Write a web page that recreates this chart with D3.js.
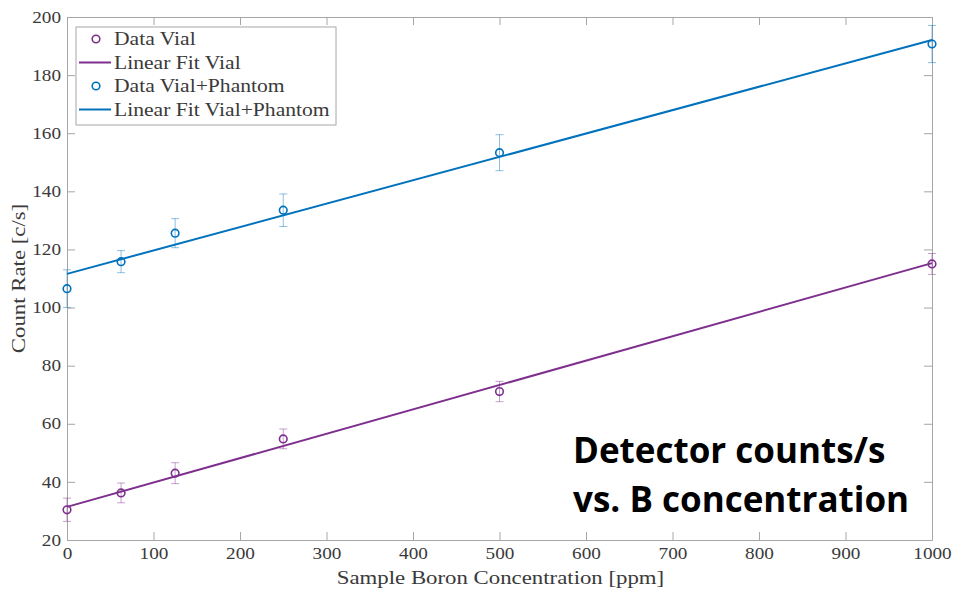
<!DOCTYPE html>
<html lang="en">
<head>
  <meta charset="utf-8">
  <title>Count rate vs boron concentration</title>
  <script src="https://d3js.org/d3.v7.min.js"></script>
  <style>
    body { margin: 0; background: #fff; }
  </style>
</head>
<body>
  <div id="chart"></div>
  <script>
    "use strict"

    // concentrations [ppm]
    var conc = [0, 62.5, 125, 250, 500, 1000];

    // vial only
    var vialRate = [30.4, 36.2, 43.0, 54.8, 71.1, 115.0];
    var vialErr = [4.0, 3.4, 3.6, 3.4, 3.5, 3.6];
    var vialFit = [31.4, 115.3]; // at 0 and 1000 ppm

    // vial + phantom
    var phantRate = [106.5, 115.8, 125.6, 133.5, 153.3, 190.7];
    var phantErr = [6.5, 3.8, 5.0, 5.6, 6.2, 6.4];
    var phantFit = [111.6, 192.1];

    var fitX = [0, 1000];
    var xTicks = [0, 100, 200, 300, 400, 500, 600, 700, 800, 900, 1000];
    var yTicks = [20, 40, 60, 80, 100, 120, 140, 160, 180, 200];

    var purple = '#7e2f8e', blue = '#0072bd';
    var serif = '"Liberation Serif", "Times New Roman", "DejaVu Serif", serif';
    var textoCor = '#3a3a3a';
    var estica = 1.2; // computer modern is wider than times

    var larguraSVG = 953, alturaSVG = 590;
    var margin = {top: 17, right: 21, bottom: 50, left: 67},
        larguraVis = larguraSVG - margin.left - margin.right,
        alturaVis = alturaSVG - margin.top - margin.bottom;

    var svg = d3.select('#chart').append('svg')
        .attr('width', larguraSVG)
        .attr('height', alturaSVG);

    var grafico = svg.append('g')
        .attr('transform', 'translate(' + margin.left + ',' + margin.top + ')');

    var x = d3.scaleLinear().domain([0, 1000]).range([0, larguraVis]);
    var y = d3.scaleLinear().domain([20, 200]).range([alturaVis, 0]);

    // stretch text a bit horizontally
    function alarga(sel) {
      sel.each(function() {
        var w = this.getComputedTextLength();
        d3.select(this).attr('textLength', w * estica).attr('lengthAdjust', 'spacingAndGlyphs');
      });
    }

    // box + ticks (inward, mirrored)
    var eixoCor = '#a6a6a6';
    function estiloEixo(g) {
      g.attr('font-family', serif).attr('font-size', 16);
      g.select('.domain').attr('stroke', eixoCor);
      g.selectAll('.tick line').attr('stroke', eixoCor);
      g.selectAll('.tick text').attr('fill', textoCor).call(alarga);
    }
    grafico.append('g')
        .attr('transform', 'translate(0,' + alturaVis + ')')
        .call(d3.axisBottom(x).tickValues(xTicks).tickFormat(d3.format('d'))
          .tickSizeInner(-8).tickSizeOuter(0).tickPadding(8))
        .call(estiloEixo);
    grafico.append('g')
        .call(d3.axisTop(x).tickValues(xTicks).tickSizeInner(-8).tickSizeOuter(0).tickFormat(''))
        .call(estiloEixo);
    grafico.append('g')
        .call(d3.axisLeft(y).tickValues(yTicks).tickSizeInner(-8).tickSizeOuter(0).tickPadding(6))
        .call(estiloEixo);
    grafico.append('g')
        .attr('transform', 'translate(' + larguraVis + ',0)')
        .call(d3.axisRight(y).tickValues(yTicks).tickSizeInner(-8).tickSizeOuter(0).tickFormat(''))
        .call(estiloEixo);

    // series
    function desenhaSerie(rate, err, fit, cor) {
      var pts = conc.map(function(c, i) { return {c: c, v: rate[i], e: err[i]}; });
      var barras = grafico.append('g')
          .attr('stroke', cor).attr('stroke-opacity', 0.45).attr('stroke-width', 1);
      barras.selectAll('line.v').data(pts).enter().append('line')
          .attr('x1', d => x(d.c)).attr('x2', d => x(d.c))
          .attr('y1', d => y(d.v - d.e)).attr('y2', d => y(d.v + d.e));
      [-1, 1].forEach(function(s) {
        barras.selectAll(null).data(pts).enter().append('line')
            .attr('x1', d => x(d.c) - 4).attr('x2', d => x(d.c) + 4)
            .attr('y1', d => y(d.v + s * d.e)).attr('y2', d => y(d.v + s * d.e));
      });
      grafico.append('path')
          .datum(fitX.map(function(c, i) { return [c, fit[i]]; }))
          .attr('fill', 'none').attr('stroke', cor).attr('stroke-width', 2)
          .attr('d', d3.line().x(d => x(d[0])).y(d => y(d[1])));
      grafico.append('g').selectAll('circle').data(pts).enter().append('circle')
          .attr('cx', d => x(d.c)).attr('cy', d => y(d.v))
          .attr('r', 3.8).attr('fill', 'none')
          .attr('stroke', cor).attr('stroke-width', 1.6);
    }
    desenhaSerie(vialRate, vialErr, vialFit, purple);
    desenhaSerie(phantRate, phantErr, phantFit, blue);

    // axis labels
    svg.append('text')
        .attr('x', margin.left + larguraVis / 2 + 1).attr('y', 584)
        .attr('text-anchor', 'middle')
        .attr('font-family', serif).attr('font-size', 19).attr('fill', textoCor)
        .text('Sample Boron Concentration [ppm]')
        .call(alarga);
    svg.append('text')
        .attr('transform', 'translate(25,' + (margin.top + alturaVis / 2) + ') rotate(-90)')
        .attr('text-anchor', 'middle')
        .attr('font-family', serif).attr('font-size', 19).attr('fill', textoCor)
        .text('Count Rate [c/s]')
        .call(alarga);

    // legend
    var legenda = [
      {nome: 'Data Vial', cor: purple, tipo: 'ponto'},
      {nome: 'Linear Fit Vial', cor: purple, tipo: 'linha'},
      {nome: 'Data Vial+Phantom', cor: blue, tipo: 'ponto'},
      {nome: 'Linear Fit Vial+Phantom', cor: blue, tipo: 'linha'}
    ];
    var leg = svg.append('g').attr('transform', 'translate(76,27)');
    leg.append('rect').attr('width', 260).attr('height', 98)
        .attr('fill', '#fff').attr('stroke', eixoCor);
    var item = leg.selectAll('g.item').data(legenda).enter().append('g')
        .attr('transform', (d, i) => 'translate(0,' + (12 + i * 23.5) + ')');
    item.filter(d => d.tipo === 'linha').append('line')
        .attr('x1', 3).attr('x2', 35).attr('stroke', d => d.cor).attr('stroke-width', 2);
    item.filter(d => d.tipo === 'ponto').append('circle')
        .attr('cx', 20).attr('r', 3.8).attr('fill', 'none')
        .attr('stroke', d => d.cor).attr('stroke-width', 1.6);
    item.append('text').attr('x', 38).attr('dy', '0.35em')
        .attr('font-family', serif).attr('font-size', 18).attr('fill', textoCor)
        .text(d => d.nome)
        .call(alarga);

    // annotation
    var nota = ['Detector counts/s', 'vs. B concentration'];
    svg.selectAll('text.note').data(nota).enter().append('text')
        .attr('class', 'note')
        .attr('x', 573).attr('y', (d, i) => 463 + i * 49)
        .attr('font-family', '"Open Sans", "Liberation Sans", sans-serif')
        .attr('font-weight', 'bold').attr('font-size', 35).attr('fill', '#000')
        .text(d => d);
  </script>
</body>
</html>
